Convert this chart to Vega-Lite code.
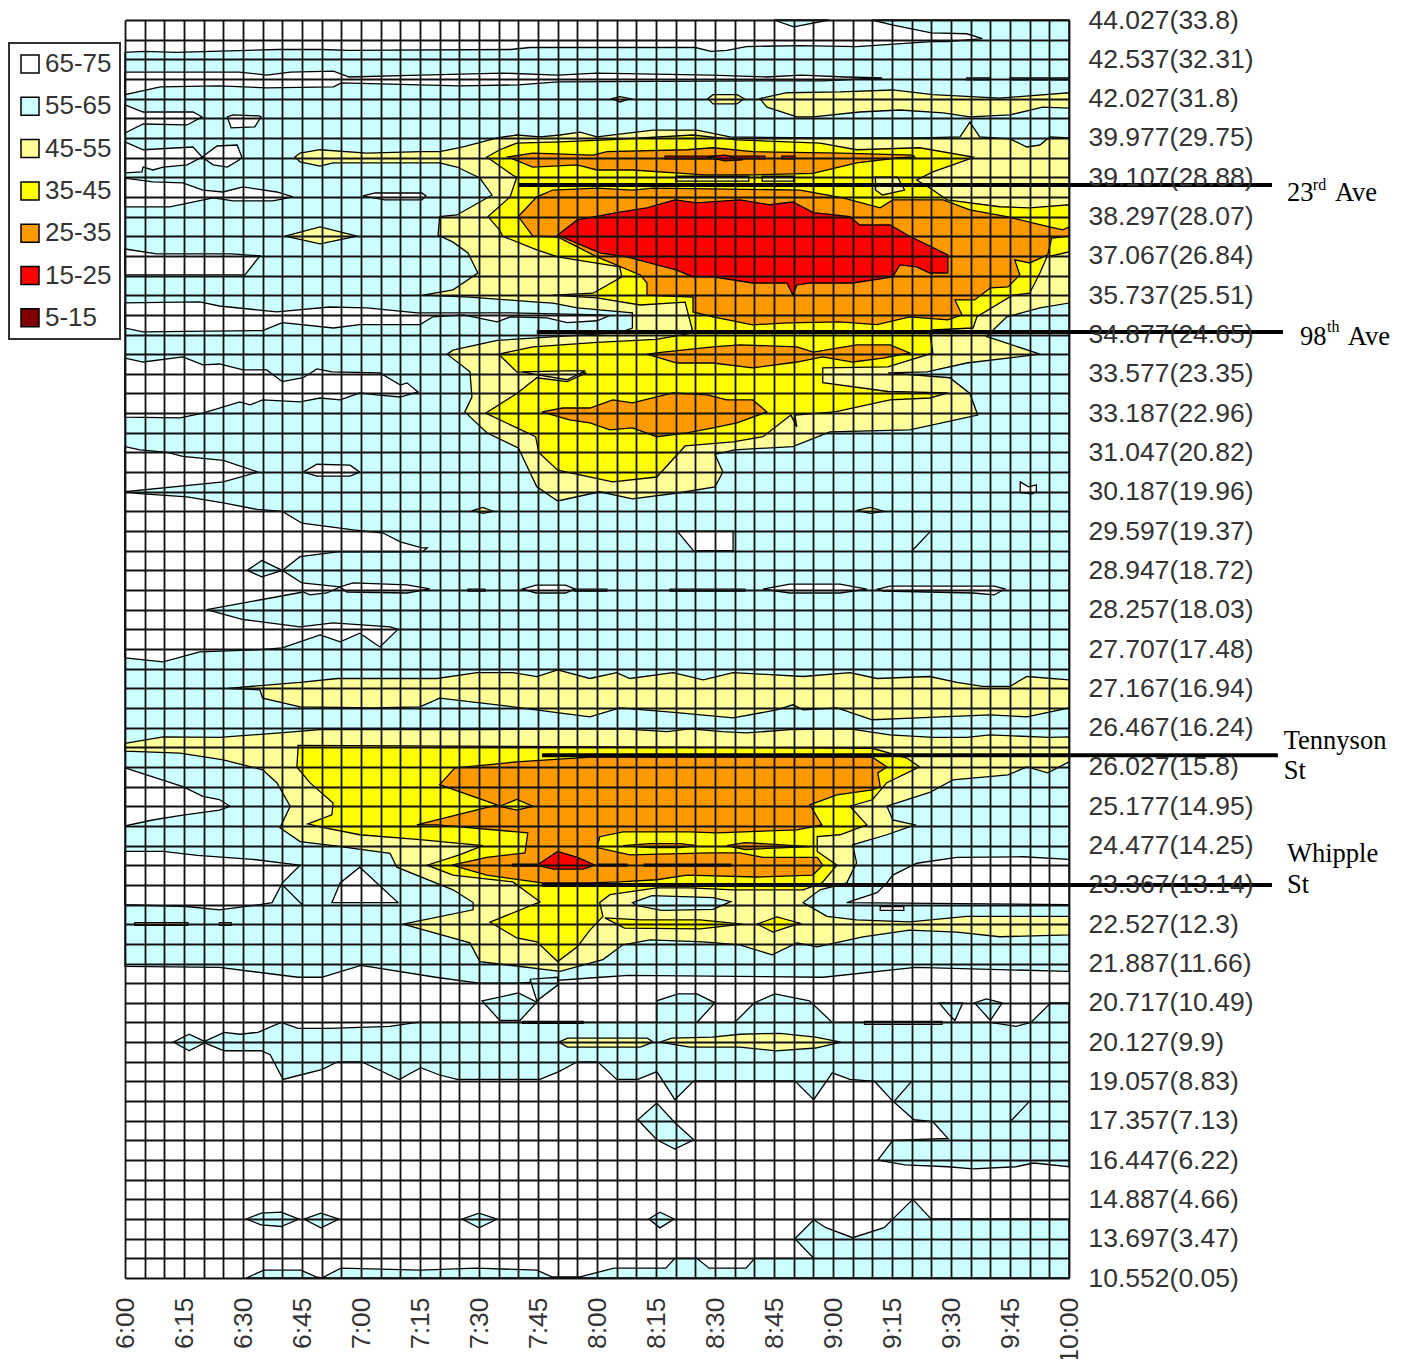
{"$schema":"https://vega.github.io/schema/vega-lite/v6.json","autosize":{"type":"none"},"padding":{"left":125,"top":20,"right":341,"bottom":81},"width":944,"height":1258,"background":"white","config":{"view":{"stroke":null},"font":"Liberation Sans","legend":{"strokeWidth":2}},
"datasets":{"polys":[
{"band":"55-65","part":"c0","t":360,"r":1.65},{"band":"55-65","part":"c0","t":365,"r":1.6},{"band":"55-65","part":"c0","t":373,"r":1.65},{"band":"55-65","part":"c0","t":399,"r":1.5},{"band":"55-65","part":"c0","t":410,"r":1.5},{"band":"55-65","part":"c0","t":417,"r":1.55},{"band":"55-65","part":"c0","t":458,"r":1.5},{"band":"55-65","part":"c0","t":463,"r":1.4},{"band":"55-65","part":"c0","t":505,"r":1.4},{"band":"55-65","part":"c0","t":509,"r":1.6},{"band":"55-65","part":"c0","t":513,"r":1.55},{"band":"55-65","part":"c0","t":518,"r":1.35},{"band":"55-65","part":"c0","t":532,"r":1.3},{"band":"55-65","part":"c0","t":546,"r":1.35},{"band":"55-65","part":"c0","t":565,"r":1.1},{"band":"55-65","part":"c0","t":569,"r":1.1},{"band":"55-65","part":"c0","t":578,"r":0.95},{"band":"55-65","part":"c0","t":574,"r":0.7},{"band":"55-65","part":"c0","t":565,"r":0.65},{"band":"55-65","part":"c0","t":555,"r":0.25},{"band":"55-65","part":"c0","t":550,"r":0},{"band":"55-65","part":"c0","t":600,"r":0},{"band":"55-65","part":"c0","t":600,"r":48.4},{"band":"55-65","part":"c0","t":561,"r":48.2},{"band":"55-65","part":"c0","t":537.5,"r":48.7},{"band":"55-65","part":"c0","t":488,"r":48.6},{"band":"55-65","part":"c0","t":481,"r":48.7},{"band":"55-65","part":"c0","t":460,"r":49},{"band":"55-65","part":"c0","t":450,"r":49},{"band":"55-65","part":"c0","t":439,"r":48.7},{"band":"55-65","part":"c0","t":420,"r":48.1},{"band":"55-65","part":"c0","t":410,"r":48.7},{"band":"55-65","part":"c0","t":404,"r":48.7},{"band":"55-65","part":"c0","t":384,"r":48.2},{"band":"55-65","part":"c0","t":360,"r":48.15},
{"band":"55-65","part":"c1","t":525,"r":0},{"band":"55-65","part":"c1","t":530,"r":0.35},{"band":"55-65","part":"c1","t":539,"r":0},
{"band":"55-65","part":"c2","t":463,"r":48.8},{"band":"55-65","part":"c2","t":464.7,"r":49.9},{"band":"55-65","part":"c2","t":470,"r":49.1},{"band":"55-65","part":"c2","t":470,"r":48.7},
{"band":"55-65","part":"c3","t":450.8,"r":49.9},{"band":"55-65","part":"c3","t":460,"r":49.5},{"band":"55-65","part":"c3","t":464.7,"r":49.97},{"band":"55-65","part":"c3","t":460.4,"r":50.9},{"band":"55-65","part":"c3","t":455.3,"r":50.9},
{"band":"55-65","part":"c4","t":379.8,"r":52},{"band":"55-65","part":"c4","t":385.2,"r":51.5},{"band":"55-65","part":"c4","t":389.2,"r":51.6},{"band":"55-65","part":"c4","t":393.8,"r":51.5},{"band":"55-65","part":"c4","t":399.7,"r":51},{"band":"55-65","part":"c4","t":404,"r":51.3},{"band":"55-65","part":"c4","t":412,"r":51.3},{"band":"55-65","part":"c4","t":427.4,"r":51.2},{"band":"55-65","part":"c4","t":434.2,"r":51},{"band":"55-65","part":"c4","t":495.2,"r":51},{"band":"55-65","part":"c4","t":495.2,"r":49.9},{"band":"55-65","part":"c4","t":500.6,"r":49.55},{"band":"55-65","part":"c4","t":505.4,"r":49.55},{"band":"55-65","part":"c4","t":510,"r":50},{"band":"55-65","part":"c4","t":505.4,"r":51},{"band":"55-65","part":"c4","t":515,"r":51},{"band":"55-65","part":"c4","t":520,"r":50},{"band":"55-65","part":"c4","t":525.2,"r":49.55},{"band":"55-65","part":"c4","t":534,"r":49.9},{"band":"55-65","part":"c4","t":539.8,"r":51},{"band":"55-65","part":"c4","t":567.7,"r":51},{"band":"55-65","part":"c4","t":580,"r":51},{"band":"55-65","part":"c4","t":586.5,"r":51.2},{"band":"55-65","part":"c4","t":590.3,"r":51},{"band":"55-65","part":"c4","t":595.4,"r":50},{"band":"55-65","part":"c4","t":600,"r":50},{"band":"55-65","part":"c4","t":600,"r":58.34},{"band":"55-65","part":"c4","t":591,"r":58.15},{"band":"55-65","part":"c4","t":586.5,"r":58.34},{"band":"55-65","part":"c4","t":575.6,"r":58.45},{"band":"55-65","part":"c4","t":569.2,"r":58.34},{"band":"55-65","part":"c4","t":558.3,"r":58.24},{"band":"55-65","part":"c4","t":551.4,"r":58},{"band":"55-65","part":"c4","t":555.2,"r":57},{"band":"55-65","part":"c4","t":569.2,"r":56.9},{"band":"55-65","part":"c4","t":565.4,"r":56.05},{"band":"55-65","part":"c4","t":560.6,"r":55.95},{"band":"55-65","part":"c4","t":555.2,"r":55},{"band":"55-65","part":"c4","t":550.6,"r":54},{"band":"55-65","part":"c4","t":544.3,"r":53.9},{"band":"55-65","part":"c4","t":539.8,"r":53.56},{"band":"55-65","part":"c4","t":535.1,"r":54.93},{"band":"55-65","part":"c4","t":530.3,"r":53.97},{"band":"55-65","part":"c4","t":504.6,"r":53.97},{"band":"55-65","part":"c4","t":499.8,"r":54.93},{"band":"55-65","part":"c4","t":495.2,"r":53.5},{"band":"55-65","part":"c4","t":490.4,"r":53.9},{"band":"55-65","part":"c4","t":485,"r":53.9},{"band":"55-65","part":"c4","t":480.2,"r":53},{"band":"55-65","part":"c4","t":475,"r":53},{"band":"55-65","part":"c4","t":470.3,"r":53.5},{"band":"55-65","part":"c4","t":465.5,"r":53.9},{"band":"55-65","part":"c4","t":444.4,"r":53.9},{"band":"55-65","part":"c4","t":439.8,"r":53.66},{"band":"55-65","part":"c4","t":435.2,"r":53.3},{"band":"55-65","part":"c4","t":429.7,"r":53.9},{"band":"55-65","part":"c4","t":420.2,"r":53},{"band":"55-65","part":"c4","t":414.1,"r":53},{"band":"55-65","part":"c4","t":410,"r":53.4},{"band":"55-65","part":"c4","t":404.8,"r":53.66},{"band":"55-65","part":"c4","t":400.2,"r":53.9},{"band":"55-65","part":"c4","t":396.9,"r":52.64},{"band":"55-65","part":"c4","t":394.6,"r":52.44},{"band":"55-65","part":"c4","t":385.2,"r":52.44},
{"band":"55-65","part":"c5","t":372.3,"r":52},{"band":"55-65","part":"c5","t":376.3,"r":51.6},{"band":"55-65","part":"c5","t":380.6,"r":52},{"band":"55-65","part":"c5","t":376.3,"r":52.44},
{"band":"55-65","part":"c6","t":567,"r":50},{"band":"55-65","part":"c6","t":573,"r":50},{"band":"55-65","part":"c6","t":571,"r":50.9},{"band":"55-65","part":"c6","t":569.5,"r":50.6},
{"band":"55-65","part":"c7","t":576,"r":50},{"band":"55-65","part":"c7","t":579,"r":49.8},{"band":"55-65","part":"c7","t":583,"r":50},{"band":"55-65","part":"c7","t":580,"r":50.9},
{"band":"55-65","part":"c8","t":495.2,"r":55.1},{"band":"55-65","part":"c8","t":490.4,"r":55.95},{"band":"55-65","part":"c8","t":495.2,"r":56.97},{"band":"55-65","part":"c8","t":499.8,"r":57.44},{"band":"55-65","part":"c8","t":504.6,"r":56.97},{"band":"55-65","part":"c8","t":499.8,"r":56.1},
{"band":"55-65","part":"c9","t":390.8,"r":61},{"band":"55-65","part":"c9","t":394.6,"r":60.7},{"band":"55-65","part":"c9","t":399.7,"r":60.65},{"band":"55-65","part":"c9","t":404.2,"r":61},{"band":"55-65","part":"c9","t":399.7,"r":61.38},{"band":"55-65","part":"c9","t":394.6,"r":61.3},
{"band":"55-65","part":"c10","t":405.5,"r":61},{"band":"55-65","part":"c10","t":409.8,"r":60.7},{"band":"55-65","part":"c10","t":414.4,"r":61},{"band":"55-65","part":"c10","t":409.8,"r":61.45},
{"band":"55-65","part":"c11","t":445.7,"r":61},{"band":"55-65","part":"c11","t":450,"r":60.7},{"band":"55-65","part":"c11","t":454.6,"r":61},{"band":"55-65","part":"c11","t":450,"r":61.45},
{"band":"55-65","part":"c12","t":493.2,"r":61},{"band":"55-65","part":"c12","t":496,"r":60.65},{"band":"55-65","part":"c12","t":499.6,"r":61},{"band":"55-65","part":"c12","t":496,"r":61.45},
{"band":"55-65","part":"c13","t":530.3,"r":62},{"band":"55-65","part":"c13","t":535.1,"r":61.04},{"band":"55-65","part":"c13","t":538.2,"r":61.44},{"band":"55-65","part":"c13","t":545,"r":61.95},{"band":"55-65","part":"c13","t":553,"r":61.44},{"band":"55-65","part":"c13","t":555.5,"r":60.94},{"band":"55-65","part":"c13","t":560.3,"r":60},{"band":"55-65","part":"c13","t":564.9,"r":60.99},{"band":"55-65","part":"c13","t":600,"r":61},{"band":"55-65","part":"c13","t":600,"r":64},{"band":"55-65","part":"c13","t":390.8,"r":64},{"band":"55-65","part":"c13","t":395.3,"r":63.6},{"band":"55-65","part":"c13","t":404.7,"r":63.6},{"band":"55-65","part":"c13","t":408.6,"r":63.94},{"band":"55-65","part":"c13","t":410,"r":64},{"band":"55-65","part":"c13","t":414.9,"r":63.5},{"band":"55-65","part":"c13","t":435.2,"r":63.6},{"band":"55-65","part":"c13","t":449.2,"r":63.5},{"band":"55-65","part":"c13","t":464.7,"r":63.6},{"band":"55-65","part":"c13","t":468.5,"r":63.94},{"band":"55-65","part":"c13","t":475.7,"r":63.94},{"band":"55-65","part":"c13","t":484.3,"r":63.5},{"band":"55-65","part":"c13","t":497.5,"r":63.5},{"band":"55-65","part":"c13","t":499.8,"r":63},{"band":"55-65","part":"c13","t":505.4,"r":63},{"band":"55-65","part":"c13","t":508.5,"r":63.5},{"band":"55-65","part":"c13","t":517.9,"r":63.5},{"band":"55-65","part":"c13","t":520.1,"r":63},{"band":"55-65","part":"c13","t":535.1,"r":63},
{"band":"55-65","part":"l1","t":560,"r":54},{"band":"55-65","part":"l1","t":555.6,"r":55},
{"band":"55-65","part":"l2","t":590,"r":55},{"band":"55-65","part":"l2","t":585.3,"r":56},
{"band":"55-65","part":"l3","t":564.7,"r":26.03},{"band":"55-65","part":"l3","t":560,"r":27.03},
{"band":"65-75","part":"w1","t":360,"r":2.65},{"band":"65-75","part":"w1","t":389,"r":2.65},{"band":"65-75","part":"w1","t":396,"r":2.8},{"band":"65-75","part":"w1","t":402,"r":2.65},{"band":"65-75","part":"w1","t":413,"r":2.6},{"band":"65-75","part":"w1","t":417,"r":2.9},{"band":"65-75","part":"w1","t":435,"r":2.8},{"band":"65-75","part":"w1","t":456,"r":2.7},{"band":"65-75","part":"w1","t":470,"r":2.8},{"band":"65-75","part":"w1","t":480,"r":2.7},{"band":"65-75","part":"w1","t":509,"r":2.8},{"band":"65-75","part":"w1","t":523,"r":2.9},{"band":"65-75","part":"w1","t":532,"r":2.8},{"band":"65-75","part":"w1","t":543,"r":2.9},{"band":"65-75","part":"w1","t":552.5,"r":2.95},{"band":"65-75","part":"w1","t":537.5,"r":3.1},{"band":"65-75","part":"w1","t":522,"r":3.1},{"band":"65-75","part":"w1","t":470,"r":3.15},{"band":"65-75","part":"w1","t":460,"r":3.3},{"band":"65-75","part":"w1","t":445,"r":3.35},{"band":"65-75","part":"w1","t":435,"r":3.3},{"band":"65-75","part":"w1","t":415,"r":3.2},{"band":"65-75","part":"w1","t":413,"r":3.4},{"band":"65-75","part":"w1","t":396,"r":3.45},{"band":"65-75","part":"w1","t":384,"r":3.35},{"band":"65-75","part":"w1","t":369,"r":3.4},{"band":"65-75","part":"w1","t":360,"r":3.8},
{"band":"65-75","part":"w1b","t":574,"r":2.95},{"band":"65-75","part":"w1b","t":580,"r":2.95},{"band":"65-75","part":"w1b","t":580,"r":3.05},{"band":"65-75","part":"w1b","t":574,"r":3.05},
{"band":"65-75","part":"w1c","t":585,"r":2.95},{"band":"65-75","part":"w1c","t":600,"r":2.95},{"band":"65-75","part":"w1c","t":600,"r":3.05},{"band":"65-75","part":"w1c","t":585,"r":3.05},
{"band":"65-75","part":"w2","t":360,"r":4.32},{"band":"65-75","part":"w2","t":364.6,"r":4.68},{"band":"65-75","part":"w2","t":377.3,"r":4.68},{"band":"65-75","part":"w2","t":379.6,"r":4.93},{"band":"65-75","part":"w2","t":375.8,"r":5.34},{"band":"65-75","part":"w2","t":364.6,"r":5.29},{"band":"65-75","part":"w2","t":360,"r":5.75},
{"band":"65-75","part":"w3","t":386,"r":4.93},{"band":"65-75","part":"w3","t":387.5,"r":4.83},{"band":"65-75","part":"w3","t":394,"r":4.88},{"band":"65-75","part":"w3","t":394.6,"r":4.93},{"band":"65-75","part":"w3","t":393,"r":5.44},{"band":"65-75","part":"w3","t":387,"r":5.49},
{"band":"65-75","part":"w4","t":360,"r":6.2},{"band":"65-75","part":"w4","t":364.6,"r":6.6},{"band":"65-75","part":"w4","t":377.3,"r":6.46},{"band":"65-75","part":"w4","t":379.6,"r":6.97},{"band":"65-75","part":"w4","t":375.8,"r":7.37},{"band":"65-75","part":"w4","t":369.7,"r":7.48},{"band":"65-75","part":"w4","t":367.1,"r":7.63},{"band":"65-75","part":"w4","t":364.6,"r":7.48},{"band":"65-75","part":"w4","t":364.3,"r":7.73},{"band":"65-75","part":"w4","t":360,"r":7.78},
{"band":"65-75","part":"w5","t":379.6,"r":6.97},{"band":"65-75","part":"w5","t":383.4,"r":6.41},{"band":"65-75","part":"w5","t":388.5,"r":6.36},{"band":"65-75","part":"w5","t":389.7,"r":6.97},{"band":"65-75","part":"w5","t":389,"r":7.12},{"band":"65-75","part":"w5","t":386,"r":7.48},{"band":"65-75","part":"w5","t":382.4,"r":7.37},
{"band":"65-75","part":"w6","t":360,"r":8.04},{"band":"65-75","part":"w6","t":367.1,"r":8.24},{"band":"65-75","part":"w6","t":374.7,"r":8.29},{"band":"65-75","part":"w6","t":379.8,"r":8.65},{"band":"65-75","part":"w6","t":384.9,"r":8.75},{"band":"65-75","part":"w6","t":390,"r":8.49},{"band":"65-75","part":"w6","t":398.6,"r":8.75},{"band":"65-75","part":"w6","t":402.7,"r":9},{"band":"65-75","part":"w6","t":397.6,"r":9.2},{"band":"65-75","part":"w6","t":387.5,"r":9.2},{"band":"65-75","part":"w6","t":382.4,"r":9.05},{"band":"65-75","part":"w6","t":371.4,"r":9.51},{"band":"65-75","part":"w6","t":360,"r":9.51},
{"band":"65-75","part":"w7","t":420.5,"r":8.95},{"band":"65-75","part":"w7","t":423.6,"r":8.8},{"band":"65-75","part":"w7","t":435.5,"r":8.8},{"band":"65-75","part":"w7","t":436.5,"r":8.95},{"band":"65-75","part":"w7","t":435.5,"r":9.15},{"band":"65-75","part":"w7","t":426,"r":9.15},
{"band":"65-75","part":"w8","t":360,"r":11.65},{"band":"65-75","part":"w8","t":368,"r":11.9},{"band":"65-75","part":"w8","t":387,"r":11.9},{"band":"65-75","part":"w8","t":394.3,"r":12},{"band":"65-75","part":"w8","t":390.5,"r":12.97},{"band":"65-75","part":"w8","t":360,"r":12.97},
{"band":"65-75","part":"w9","t":360,"r":14.39},{"band":"65-75","part":"w9","t":379,"r":14.34},{"band":"65-75","part":"w9","t":384,"r":14.55},{"band":"65-75","part":"w9","t":398.6,"r":14.85},{"band":"65-75","part":"w9","t":412,"r":14.6},{"band":"65-75","part":"w9","t":421.5,"r":14.65},{"band":"65-75","part":"w9","t":434.3,"r":14.9},{"band":"65-75","part":"w9","t":443.4,"r":14.9},{"band":"65-75","part":"w9","t":458,"r":14.9},{"band":"65-75","part":"w9","t":481,"r":15},{"band":"65-75","part":"w9","t":483,"r":15.05},{"band":"65-75","part":"w9","t":480,"r":15.3},{"band":"65-75","part":"w9","t":472.4,"r":15.4},{"band":"65-75","part":"w9","t":467.3,"r":15.15},{"band":"65-75","part":"w9","t":458,"r":15.1},{"band":"65-75","part":"w9","t":454.6,"r":15.36},{"band":"65-75","part":"w9","t":446,"r":15},{"band":"65-75","part":"w9","t":438.3,"r":15.1},{"band":"65-75","part":"w9","t":435,"r":15.5},{"band":"65-75","part":"w9","t":419.7,"r":15.5},{"band":"65-75","part":"w9","t":413,"r":15.67},{"band":"65-75","part":"w9","t":400,"r":15.4},{"band":"65-75","part":"w9","t":395,"r":15.8},{"band":"65-75","part":"w9","t":364.6,"r":15.87},{"band":"65-75","part":"w9","t":360,"r":15.67},
{"band":"65-75","part":"w10","t":360,"r":17.2},{"band":"65-75","part":"w10","t":364.6,"r":17.4},{"band":"65-75","part":"w10","t":374.7,"r":17.14},{"band":"65-75","part":"w10","t":379.8,"r":17.55},{"band":"65-75","part":"w10","t":384,"r":17.5},{"band":"65-75","part":"w10","t":390,"r":17.8},{"band":"65-75","part":"w10","t":396,"r":17.8},{"band":"65-75","part":"w10","t":400,"r":18.4},{"band":"65-75","part":"w10","t":405.3,"r":18.2},{"band":"65-75","part":"w10","t":408.8,"r":17.75},{"band":"65-75","part":"w10","t":412.6,"r":17.9},{"band":"65-75","part":"w10","t":424.8,"r":17.95},{"band":"65-75","part":"w10","t":430,"r":18.57},{"band":"65-75","part":"w10","t":431.7,"r":18.46},{"band":"65-75","part":"w10","t":434.5,"r":18.92},{"band":"65-75","part":"w10","t":430,"r":19.18},{"band":"65-75","part":"w10","t":424,"r":19.07},{"band":"65-75","part":"w10","t":419.7,"r":18.97},{"band":"65-75","part":"w10","t":414.7,"r":19.33},{"band":"65-75","part":"w10","t":409.6,"r":19.23},{"band":"65-75","part":"w10","t":404.5,"r":19.43},{"band":"65-75","part":"w10","t":395,"r":19.33},{"band":"65-75","part":"w10","t":391.8,"r":19.58},{"band":"65-75","part":"w10","t":389.2,"r":19.43},{"band":"65-75","part":"w10","t":379.8,"r":20},{"band":"65-75","part":"w10","t":374,"r":20.24},{"band":"65-75","part":"w10","t":360,"r":20.2},
{"band":"65-75","part":"w11","t":360,"r":21.7},{"band":"65-75","part":"w11","t":363.8,"r":21.87},{"band":"65-75","part":"w11","t":370.7,"r":22},{"band":"65-75","part":"w11","t":374.7,"r":22.2},{"band":"65-75","part":"w11","t":385,"r":22.4},{"band":"65-75","part":"w11","t":393.8,"r":23},{"band":"65-75","part":"w11","t":385,"r":23.5},{"band":"65-75","part":"w11","t":360,"r":24},
{"band":"65-75","part":"w12","t":360,"r":24},{"band":"65-75","part":"w12","t":363.8,"r":24.1},{"band":"65-75","part":"w12","t":375.8,"r":24.26},{"band":"65-75","part":"w12","t":385,"r":24.57},{"band":"65-75","part":"w12","t":393.6,"r":24.9},{"band":"65-75","part":"w12","t":400,"r":25},{"band":"65-75","part":"w12","t":405,"r":25.6},{"band":"65-75","part":"w12","t":418,"r":25.94},{"band":"65-75","part":"w12","t":425.6,"r":26.1},{"band":"65-75","part":"w12","t":430,"r":26.55},{"band":"65-75","part":"w12","t":435.5,"r":26.86},{"band":"65-75","part":"w12","t":436.8,"r":26.86},{"band":"65-75","part":"w12","t":435.5,"r":27.06},{"band":"65-75","part":"w12","t":426.6,"r":27.06},{"band":"65-75","part":"w12","t":414,"r":27.06},{"band":"65-75","part":"w12","t":404.5,"r":27.3},{"band":"65-75","part":"w12","t":400,"r":28},{"band":"65-75","part":"w12","t":405,"r":28.64},{"band":"65-75","part":"w12","t":414.7,"r":28.84},{"band":"65-75","part":"w12","t":418,"r":28.64},{"band":"65-75","part":"w12","t":431.7,"r":28.74},{"band":"65-75","part":"w12","t":437.5,"r":28.94},{"band":"65-75","part":"w12","t":431.7,"r":29.15},{"band":"65-75","part":"w12","t":416.4,"r":29.1},{"band":"65-75","part":"w12","t":414.7,"r":28.84},{"band":"65-75","part":"w12","t":411.3,"r":29.15},{"band":"65-75","part":"w12","t":407,"r":29.25},{"band":"65-75","part":"w12","t":405.3,"r":29.1},{"band":"65-75","part":"w12","t":380.8,"r":30},{"band":"65-75","part":"w12","t":390,"r":30.5},{"band":"65-75","part":"w12","t":404.5,"r":30.87},{"band":"65-75","part":"w12","t":412.9,"r":30.67},{"band":"65-75","part":"w12","t":427.4,"r":30.87},{"band":"65-75","part":"w12","t":429.4,"r":31},{"band":"65-75","part":"w12","t":424.8,"r":31.9},{"band":"65-75","part":"w12","t":419.7,"r":31.2},{"band":"65-75","part":"w12","t":414.7,"r":31.64},{"band":"65-75","part":"w12","t":409.6,"r":31.28},{"band":"65-75","part":"w12","t":400,"r":31.94},{"band":"65-75","part":"w12","t":393.6,"r":32.04},{"band":"65-75","part":"w12","t":379,"r":32.15},{"band":"65-75","part":"w12","t":369.7,"r":32.65},{"band":"65-75","part":"w12","t":360,"r":32.45},
{"band":"55-65","part":"c14","t":391,"r":28},{"band":"55-65","part":"c14","t":394.8,"r":27.5},{"band":"55-65","part":"c14","t":400,"r":28},{"band":"55-65","part":"c14","t":394.8,"r":28.33},
{"band":"65-75","part":"w13","t":405.3,"r":23},{"band":"65-75","part":"w13","t":408.8,"r":22.6},{"band":"65-75","part":"w13","t":417.2,"r":22.65},{"band":"65-75","part":"w13","t":419.7,"r":23},{"band":"65-75","part":"w13","t":417.2,"r":23.2},{"band":"65-75","part":"w13","t":408.8,"r":23.2},
{"band":"65-75","part":"s1","t":447.2,"r":28.95},{"band":"65-75","part":"s1","t":451.5,"r":28.95},{"band":"65-75","part":"s1","t":451.5,"r":29.05},{"band":"65-75","part":"s1","t":447.2,"r":29.05},
{"band":"65-75","part":"s2","t":461,"r":28.95},{"band":"65-75","part":"s2","t":464.5,"r":28.75},{"band":"65-75","part":"s2","t":472,"r":28.75},{"band":"65-75","part":"s2","t":474.4,"r":28.95},{"band":"65-75","part":"s2","t":472,"r":29.15},{"band":"65-75","part":"s2","t":464.5,"r":29.15},
{"band":"65-75","part":"s3","t":474.4,"r":28.95},{"band":"65-75","part":"s3","t":482.5,"r":28.95},{"band":"65-75","part":"s3","t":482.5,"r":29.05},{"band":"65-75","part":"s3","t":474.4,"r":29.05},
{"band":"65-75","part":"s4","t":498.6,"r":28.95},{"band":"65-75","part":"s4","t":517.6,"r":28.95},{"band":"65-75","part":"s4","t":517.6,"r":29.05},{"band":"65-75","part":"s4","t":498.6,"r":29.05},
{"band":"65-75","part":"s5","t":522.2,"r":28.95},{"band":"65-75","part":"s5","t":529,"r":28.7},{"band":"65-75","part":"s5","t":541.8,"r":28.7},{"band":"65-75","part":"s5","t":548.6,"r":28.95},{"band":"65-75","part":"s5","t":541.8,"r":29.15},{"band":"65-75","part":"s5","t":529,"r":29.15},
{"band":"65-75","part":"s6","t":551.4,"r":28.95},{"band":"65-75","part":"s6","t":554.5,"r":28.8},{"band":"65-75","part":"s6","t":581,"r":28.8},{"band":"65-75","part":"s6","t":583.7,"r":28.95},{"band":"65-75","part":"s6","t":581,"r":29.25},{"band":"65-75","part":"s6","t":575.6,"r":29.15},{"band":"65-75","part":"s6","t":552.8,"r":29.05},
{"band":"65-75","part":"w14","t":500.4,"r":26},{"band":"65-75","part":"w14","t":514.6,"r":26},{"band":"65-75","part":"w14","t":514.6,"r":27},{"band":"65-75","part":"w14","t":504.5,"r":27},
{"band":"65-75","part":"w15","t":587.6,"r":23.5},{"band":"65-75","part":"w15","t":589.7,"r":23.75},{"band":"65-75","part":"w15","t":591.7,"r":23.65},{"band":"65-75","part":"w15","t":591.7,"r":24},{"band":"65-75","part":"w15","t":590.6,"r":24.1},{"band":"65-75","part":"w15","t":587.6,"r":24.05},
{"band":"65-75","part":"w16","t":600,"r":42.7},{"band":"65-75","part":"w16","t":588.3,"r":42.57},{"band":"65-75","part":"w16","t":571.5,"r":42.6},{"band":"65-75","part":"w16","t":561.3,"r":42.9},{"band":"65-75","part":"w16","t":555.2,"r":43.5},{"band":"65-75","part":"w16","t":553.7,"r":43.9},{"band":"65-75","part":"w16","t":551.2,"r":44.4},{"band":"65-75","part":"w16","t":543.5,"r":44.9},{"band":"65-75","part":"w16","t":600,"r":45},
{"band":"65-75","part":"w17","t":552,"r":45.1},{"band":"65-75","part":"w17","t":558,"r":45.1},{"band":"65-75","part":"w17","t":558,"r":45.3},{"band":"65-75","part":"w17","t":552,"r":45.3},
{"band":"65-75","part":"w18","t":360,"r":38.05},{"band":"65-75","part":"w18","t":374.7,"r":39},{"band":"65-75","part":"w18","t":379.8,"r":39.5},{"band":"65-75","part":"w18","t":384,"r":39.66},{"band":"65-75","part":"w18","t":386.7,"r":40},{"band":"65-75","part":"w18","t":384,"r":40.2},{"band":"65-75","part":"w18","t":374.7,"r":40.45},{"band":"65-75","part":"w18","t":367,"r":40.7},{"band":"65-75","part":"w18","t":360,"r":41},
{"band":"65-75","part":"w19","t":360,"r":42.3},{"band":"65-75","part":"w19","t":369.7,"r":42.3},{"band":"65-75","part":"w19","t":378.4,"r":42.5},{"band":"65-75","part":"w19","t":392.4,"r":42.7},{"band":"65-75","part":"w19","t":404.5,"r":43},{"band":"65-75","part":"w19","t":400,"r":43.9},{"band":"65-75","part":"w19","t":397.4,"r":44.9},{"band":"65-75","part":"w19","t":394.3,"r":45},{"band":"65-75","part":"w19","t":384,"r":45.27},{"band":"65-75","part":"w19","t":375.6,"r":45.1},{"band":"65-75","part":"w19","t":360,"r":45},
{"band":"55-65","part":"l4","t":400,"r":44},{"band":"55-65","part":"l4","t":405,"r":45},
{"band":"65-75","part":"w20","t":419.7,"r":43.1},{"band":"65-75","part":"w20","t":429.4,"r":44.9},{"band":"65-75","part":"w20","t":412.6,"r":44.9},{"band":"65-75","part":"w20","t":414.7,"r":43.9},
{"band":"65-75","part":"w21","t":461,"r":50.95},{"band":"65-75","part":"w21","t":476.5,"r":50.95},{"band":"65-75","part":"w21","t":476.5,"r":51.05},{"band":"65-75","part":"w21","t":461,"r":51.05},
{"band":"65-75","part":"w22","t":548,"r":50.95},{"band":"65-75","part":"w22","t":567.7,"r":50.95},{"band":"65-75","part":"w22","t":567.7,"r":51.1},{"band":"65-75","part":"w22","t":548,"r":51.1},
{"band":"45-55","part":"p1","t":400.7,"r":11},{"band":"45-55","part":"p1","t":409.6,"r":10.53},{"band":"45-55","part":"p1","t":419,"r":11},{"band":"45-55","part":"p1","t":409.6,"r":11.39},
{"band":"45-55","part":"p2","t":448.5,"r":24.95},{"band":"45-55","part":"p2","t":451,"r":24.8},{"band":"45-55","part":"p2","t":453.6,"r":25},{"band":"45-55","part":"p2","t":451,"r":25.1},
{"band":"45-55","part":"p3","t":546,"r":24.95},{"band":"45-55","part":"p3","t":549.5,"r":24.8},{"band":"45-55","part":"p3","t":553,"r":25},{"band":"45-55","part":"p3","t":549.5,"r":25.1},
{"band":"45-55","part":"p4","t":483.8,"r":4},{"band":"45-55","part":"p4","t":485.8,"r":3.9},{"band":"45-55","part":"p4","t":488.4,"r":4},{"band":"45-55","part":"p4","t":485.8,"r":4.17},
{"band":"45-55","part":"p5","t":508.2,"r":4},{"band":"45-55","part":"p5","t":509.5,"r":3.8},{"band":"45-55","part":"p5","t":515.6,"r":3.8},{"band":"45-55","part":"p5","t":517.4,"r":4},{"band":"45-55","part":"p5","t":515.6,"r":4.27},{"band":"45-55","part":"p5","t":509.5,"r":4.27},
{"band":"45-55","part":"p6","t":521.4,"r":4},{"band":"45-55","part":"p6","t":528.3,"r":3.7},{"band":"45-55","part":"p6","t":541.8,"r":3.66},{"band":"45-55","part":"p6","t":555.2,"r":3.56},{"band":"45-55","part":"p6","t":565.4,"r":3.8},{"band":"45-55","part":"p6","t":582.4,"r":3.97},{"band":"45-55","part":"p6","t":600,"r":3.7},{"band":"45-55","part":"p6","t":600,"r":4.48},{"band":"45-55","part":"p6","t":593.3,"r":4.43},{"band":"45-55","part":"p6","t":585,"r":4.83},{"band":"45-55","part":"p6","t":574.8,"r":4.93},{"band":"45-55","part":"p6","t":568,"r":4.73},{"band":"45-55","part":"p6","t":557,"r":4.58},{"band":"45-55","part":"p6","t":546.8,"r":4.68},{"band":"45-55","part":"p6","t":535,"r":4.93},{"band":"45-55","part":"p6","t":530.8,"r":4.93},{"band":"45-55","part":"p6","t":523.2,"r":4.43},
{"band":"45-55","part":"p7","t":403.2,"r":6.97},{"band":"45-55","part":"p7","t":404.5,"r":6.77},{"band":"45-55","part":"p7","t":409.6,"r":6.6},{"band":"45-55","part":"p7","t":421.5,"r":6.77},{"band":"45-55","part":"p7","t":435,"r":6.7},{"band":"45-55","part":"p7","t":440,"r":6.7},{"band":"45-55","part":"p7","t":446,"r":6.46},{"band":"45-55","part":"p7","t":454.6,"r":6},{"band":"45-55","part":"p7","t":459.6,"r":5.85},{"band":"45-55","part":"p7","t":465.5,"r":5.95},{"band":"45-55","part":"p7","t":470.6,"r":5.85},{"band":"45-55","part":"p7","t":475.7,"r":5.7},{"band":"45-55","part":"p7","t":480,"r":5.95},{"band":"45-55","part":"p7","t":494.2,"r":5.6},{"band":"45-55","part":"p7","t":505.4,"r":5.6},{"band":"45-55","part":"p7","t":513.8,"r":5.95},{"band":"45-55","part":"p7","t":536.7,"r":6},{"band":"45-55","part":"p7","t":562.6,"r":6},{"band":"45-55","part":"p7","t":572.3,"r":5.95},{"band":"45-55","part":"p7","t":574.8,"r":5.2},{"band":"45-55","part":"p7","t":577.3,"r":5.95},{"band":"45-55","part":"p7","t":585,"r":6.05},{"band":"45-55","part":"p7","t":589.3,"r":6.46},{"band":"45-55","part":"p7","t":592.6,"r":6.36},{"band":"45-55","part":"p7","t":595.1,"r":5.95},{"band":"45-55","part":"p7","t":600,"r":6},{"band":"45-55","part":"p7","t":600,"r":14.4},{"band":"45-55","part":"p7","t":592.6,"r":14.65},{"band":"45-55","part":"p7","t":584.2,"r":15.1},{"band":"45-55","part":"p7","t":579,"r":16.1},{"band":"45-55","part":"p7","t":592.6,"r":17},{"band":"45-55","part":"p7","t":574,"r":17.45},{"band":"45-55","part":"p7","t":563.9,"r":17.9},{"band":"45-55","part":"p7","t":554,"r":17.95},{"band":"45-55","part":"p7","t":569.7,"r":18.2},{"band":"45-55","part":"p7","t":574.8,"r":19},{"band":"45-55","part":"p7","t":576.8,"r":20.1},{"band":"45-55","part":"p7","t":559.5,"r":20.85},{"band":"45-55","part":"p7","t":539.2,"r":20.95},{"band":"45-55","part":"p7","t":529.8,"r":21.7},{"band":"45-55","part":"p7","t":515,"r":21.87},{"band":"45-55","part":"p7","t":510,"r":22.1},{"band":"45-55","part":"p7","t":512,"r":23},{"band":"45-55","part":"p7","t":510,"r":23.75},{"band":"45-55","part":"p7","t":501,"r":24.05},{"band":"45-55","part":"p7","t":489,"r":24.36},{"band":"45-55","part":"p7","t":480.7,"r":24},{"band":"45-55","part":"p7","t":470,"r":24.47},{"band":"45-55","part":"p7","t":464.7,"r":23.75},{"band":"45-55","part":"p7","t":460,"r":21.77},{"band":"45-55","part":"p7","t":452,"r":21},{"band":"45-55","part":"p7","t":446.4,"r":19.94},{"band":"45-55","part":"p7","t":448.2,"r":19.18},{"band":"45-55","part":"p7","t":447.7,"r":17.9},{"band":"45-55","part":"p7","t":441.9,"r":17},{"band":"45-55","part":"p7","t":443.4,"r":16.8},{"band":"45-55","part":"p7","t":454.6,"r":16.3},{"band":"45-55","part":"p7","t":485.8,"r":15.9},{"band":"45-55","part":"p7","t":489,"r":15.67},{"band":"45-55","part":"p7","t":489,"r":14.9},{"band":"45-55","part":"p7","t":475,"r":14.65},{"band":"45-55","part":"p7","t":468.8,"r":14.4},{"band":"45-55","part":"p7","t":464.7,"r":14.35},{"band":"45-55","part":"p7","t":447.7,"r":14.1},{"band":"45-55","part":"p7","t":435.8,"r":14},{"band":"45-55","part":"p7","t":443.4,"r":13.73},{"band":"45-55","part":"p7","t":449.7,"r":12.87},{"band":"45-55","part":"p7","t":447.2,"r":11.85},{"band":"45-55","part":"p7","t":443.4,"r":11.3},{"band":"45-55","part":"p7","t":439.6,"r":10.94},{"band":"45-55","part":"p7","t":440,"r":10},{"band":"45-55","part":"p7","t":444.4,"r":9.92},{"band":"45-55","part":"p7","t":453.3,"r":8.9},{"band":"45-55","part":"p7","t":450.2,"r":8.04},{"band":"45-55","part":"p7","t":444.4,"r":7.48},{"band":"45-55","part":"p7","t":440,"r":7.27},{"band":"45-55","part":"p7","t":412.9,"r":7.27},{"band":"45-55","part":"p7","t":409.6,"r":7.43},{"band":"45-55","part":"p7","t":404.5,"r":7.22},
{"band":"45-55","part":"p8","t":386.2,"r":34},{"band":"45-55","part":"p8","t":404.5,"r":33.7},{"band":"45-55","part":"p8","t":414,"r":33.5},{"band":"45-55","part":"p8","t":439.3,"r":33.5},{"band":"45-55","part":"p8","t":449.5,"r":33.2},{"band":"45-55","part":"p8","t":458.6,"r":33.2},{"band":"45-55","part":"p8","t":464.7,"r":33.4},{"band":"45-55","part":"p8","t":470,"r":33.06},{"band":"45-55","part":"p8","t":478.2,"r":33.5},{"band":"45-55","part":"p8","t":485,"r":33.2},{"band":"45-55","part":"p8","t":488.4,"r":33.5},{"band":"45-55","part":"p8","t":499.3,"r":33.2},{"band":"45-55","part":"p8","t":507,"r":33.57},{"band":"45-55","part":"p8","t":514.6,"r":33.2},{"band":"45-55","part":"p8","t":532.4,"r":33.4},{"band":"45-55","part":"p8","t":544.3,"r":33.2},{"band":"45-55","part":"p8","t":551.2,"r":33.5},{"band":"45-55","part":"p8","t":564.6,"r":33.4},{"band":"45-55","part":"p8","t":571.5,"r":33.7},{"band":"45-55","part":"p8","t":578,"r":33.9},{"band":"45-55","part":"p8","t":585,"r":33.9},{"band":"45-55","part":"p8","t":589.3,"r":33.4},{"band":"45-55","part":"p8","t":600,"r":33.57},{"band":"45-55","part":"p8","t":600,"r":35},{"band":"45-55","part":"p8","t":589.3,"r":35.45},{"band":"45-55","part":"p8","t":580,"r":35.35},{"band":"45-55","part":"p8","t":561.3,"r":35.5},{"band":"45-55","part":"p8","t":550,"r":35.6},{"band":"45-55","part":"p8","t":541,"r":35},{"band":"45-55","part":"p8","t":532.4,"r":35.1},{"band":"45-55","part":"p8","t":529.8,"r":34.84},{"band":"45-55","part":"p8","t":525.7,"r":35.1},{"band":"45-55","part":"p8","t":514.6,"r":35.5},{"band":"45-55","part":"p8","t":500.3,"r":35.24},{"band":"45-55","part":"p8","t":485.8,"r":35},{"band":"45-55","part":"p8","t":478.2,"r":35.45},{"band":"45-55","part":"p8","t":458.6,"r":34.94},{"band":"45-55","part":"p8","t":440,"r":34.5},{"band":"45-55","part":"p8","t":435,"r":34.94},{"band":"45-55","part":"p8","t":423,"r":35},{"band":"45-55","part":"p8","t":404.5,"r":34.94},{"band":"45-55","part":"p8","t":395,"r":34.5},{"band":"45-55","part":"p8","t":394.3,"r":34.08},
{"band":"45-55","part":"p9","t":360,"r":36.8},{"band":"45-55","part":"p9","t":369.7,"r":36.47},{"band":"45-55","part":"p9","t":384,"r":36.5},{"band":"45-55","part":"p9","t":399.4,"r":36.27},{"band":"45-55","part":"p9","t":409.6,"r":36.1},{"band":"45-55","part":"p9","t":452,"r":36.1},{"band":"45-55","part":"p9","t":486.6,"r":36.06},{"band":"45-55","part":"p9","t":497.8,"r":36.2},{"band":"45-55","part":"p9","t":503.6,"r":36.06},{"band":"45-55","part":"p9","t":512,"r":36.2},{"band":"45-55","part":"p9","t":518,"r":36.27},{"band":"45-55","part":"p9","t":529,"r":36.1},{"band":"45-55","part":"p9","t":544.3,"r":36.06},{"band":"45-55","part":"p9","t":554.5,"r":36.37},{"band":"45-55","part":"p9","t":565.4,"r":36.5},{"band":"45-55","part":"p9","t":574,"r":36.5},{"band":"45-55","part":"p9","t":580,"r":36.37},{"band":"45-55","part":"p9","t":595,"r":36.5},{"band":"45-55","part":"p9","t":600,"r":36.47},{"band":"45-55","part":"p9","t":600,"r":37.74},{"band":"45-55","part":"p9","t":594.6,"r":38.3},{"band":"45-55","part":"p9","t":589.3,"r":38},{"band":"45-55","part":"p9","t":584.5,"r":38.4},{"band":"45-55","part":"p9","t":570.5,"r":38.66},{"band":"45-55","part":"p9","t":564.6,"r":39.3},{"band":"45-55","part":"p9","t":553.7,"r":40},{"band":"45-55","part":"p9","t":555.2,"r":40.7},{"band":"45-55","part":"p9","t":560.8,"r":40.95},{"band":"45-55","part":"p9","t":553.7,"r":41.45},{"band":"45-55","part":"p9","t":545,"r":41.96},{"band":"45-55","part":"p9","t":546,"r":42.88},{"band":"45-55","part":"p9","t":543.5,"r":43.9},{"band":"45-55","part":"p9","t":536.7,"r":44.25},{"band":"45-55","part":"p9","t":532.4,"r":44.9},{"band":"45-55","part":"p9","t":538.5,"r":45.6},{"band":"45-55","part":"p9","t":546,"r":45.78},{"band":"45-55","part":"p9","t":559.5,"r":45.88},{"band":"45-55","part":"p9","t":574,"r":45.6},{"band":"45-55","part":"p9","t":600,"r":45.6},{"band":"45-55","part":"p9","t":600,"r":46.54},{"band":"45-55","part":"p9","t":582.4,"r":46.64},{"band":"45-55","part":"p9","t":571.5,"r":46.4},{"band":"45-55","part":"p9","t":559.5,"r":46.3},{"band":"45-55","part":"p9","t":547.6,"r":46.64},{"band":"45-55","part":"p9","t":536,"r":47.15},{"band":"45-55","part":"p9","t":530.8,"r":46.95},{"band":"45-55","part":"p9","t":524.5,"r":47.56},{"band":"45-55","part":"p9","t":516.3,"r":47.05},{"band":"45-55","part":"p9","t":507,"r":46.9},{"band":"45-55","part":"p9","t":493.5,"r":46.8},{"band":"45-55","part":"p9","t":486.6,"r":47.05},{"band":"45-55","part":"p9","t":481.5,"r":47.8},{"band":"45-55","part":"p9","t":470.6,"r":48.4},{"band":"45-55","part":"p9","t":450.2,"r":47.9},{"band":"45-55","part":"p9","t":447.7,"r":46.95},{"band":"45-55","part":"p9","t":430.7,"r":46},{"band":"45-55","part":"p9","t":448.5,"r":45.27},{"band":"45-55","part":"p9","t":448.5,"r":44.9},{"band":"45-55","part":"p9","t":443.4,"r":44.25},{"band":"45-55","part":"p9","t":429.1,"r":43.1},{"band":"45-55","part":"p9","t":427.4,"r":42.4},{"band":"45-55","part":"p9","t":412.9,"r":42},{"band":"45-55","part":"p9","t":404.5,"r":41.8},{"band":"45-55","part":"p9","t":399.4,"r":41.1},{"band":"45-55","part":"p9","t":402,"r":40},{"band":"45-55","part":"p9","t":398.6,"r":38.8},{"band":"45-55","part":"p9","t":395,"r":38.15},{"band":"45-55","part":"p9","t":385,"r":37.64},{"band":"45-55","part":"p9","t":374,"r":37.3},{"band":"45-55","part":"p9","t":360,"r":37.2},
{"band":"55-65","part":"c15","t":489,"r":44.9},{"band":"55-65","part":"c15","t":494,"r":44.55},{"band":"55-65","part":"c15","t":509.5,"r":44.65},{"band":"55-65","part":"c15","t":514,"r":44.85},{"band":"55-65","part":"c15","t":509.5,"r":45.25},{"band":"55-65","part":"c15","t":496.5,"r":45.3},{"band":"55-65","part":"c15","t":490,"r":45.05},
{"band":"45-55","part":"p10","t":362.5,"r":45.92},{"band":"45-55","part":"p10","t":376,"r":45.92},{"band":"45-55","part":"p10","t":376,"r":46.06},{"band":"45-55","part":"p10","t":362.5,"r":46.06},
{"band":"45-55","part":"p11","t":384,"r":45.92},{"band":"45-55","part":"p11","t":387,"r":45.92},{"band":"45-55","part":"p11","t":387,"r":46.06},{"band":"45-55","part":"p11","t":384,"r":46.06},
{"band":"45-55","part":"p12","t":470.3,"r":52},{"band":"45-55","part":"p12","t":472.5,"r":51.8},{"band":"45-55","part":"p12","t":492.8,"r":51.8},{"band":"45-55","part":"p12","t":494.3,"r":52},{"band":"45-55","part":"p12","t":491,"r":52.25},{"band":"45-55","part":"p12","t":472.5,"r":52.25},
{"band":"45-55","part":"p13","t":496,"r":52},{"band":"45-55","part":"p13","t":499,"r":51.8},{"band":"45-55","part":"p13","t":509.3,"r":51.75},{"band":"45-55","part":"p13","t":516.3,"r":51.6},{"band":"45-55","part":"p13","t":526.5,"r":51.55},{"band":"45-55","part":"p13","t":535.6,"r":51.75},{"band":"45-55","part":"p13","t":542,"r":52},{"band":"45-55","part":"p13","t":535.6,"r":52.3},{"band":"45-55","part":"p13","t":525.5,"r":52.44},{"band":"45-55","part":"p13","t":516.3,"r":52.25},{"band":"45-55","part":"p13","t":503.6,"r":52.25},
{"band":"35-45","part":"y1","t":452,"r":6.97},{"band":"35-45","part":"y1","t":455.3,"r":6.6},{"band":"35-45","part":"y1","t":459.6,"r":6.26},{"band":"35-45","part":"y1","t":470.6,"r":6.2},{"band":"35-45","part":"y1","t":482.5,"r":6.1},{"band":"35-45","part":"y1","t":504.4,"r":5.85},{"band":"35-45","part":"y1","t":515.6,"r":6.1},{"band":"35-45","part":"y1","t":536.7,"r":6.26},{"band":"35-45","part":"y1","t":546,"r":6.6},{"band":"35-45","part":"y1","t":562,"r":6.5},{"band":"35-45","part":"y1","t":575.6,"r":6.97},{"band":"35-45","part":"y1","t":574,"r":7.12},{"band":"35-45","part":"y1","t":565.4,"r":7.73},{"band":"35-45","part":"y1","t":561.3,"r":8.14},{"band":"35-45","part":"y1","t":565.4,"r":8.65},{"band":"35-45","part":"y1","t":569,"r":9.15},{"band":"35-45","part":"y1","t":582.4,"r":9.5},{"band":"35-45","part":"y1","t":590,"r":9.56},{"band":"35-45","part":"y1","t":600,"r":9.4},{"band":"35-45","part":"y1","t":600,"r":11.8},{"band":"35-45","part":"y1","t":594.4,"r":12.05},{"band":"35-45","part":"y1","t":592.6,"r":12.87},{"band":"35-45","part":"y1","t":590,"r":13.9},{"band":"35-45","part":"y1","t":585.7,"r":14},{"band":"35-45","part":"y1","t":576.6,"r":15.1},{"band":"35-45","part":"y1","t":575.6,"r":15.67},{"band":"35-45","part":"y1","t":565.4,"r":15.77},{"band":"35-45","part":"y1","t":565.4,"r":15.9},{"band":"35-45","part":"y1","t":504.4,"r":15.9},{"band":"35-45","part":"y1","t":502.4,"r":14.35},{"band":"35-45","part":"y1","t":491,"r":14.5},{"band":"35-45","part":"y1","t":480,"r":14.14},{"band":"35-45","part":"y1","t":468.8,"r":14},{"band":"35-45","part":"y1","t":479,"r":13.9},{"band":"35-45","part":"y1","t":486.3,"r":13.07},{"band":"35-45","part":"y1","t":485.8,"r":12.56},{"band":"35-45","part":"y1","t":470,"r":12.05},{"band":"35-45","part":"y1","t":464.7,"r":11.7},{"band":"35-45","part":"y1","t":456,"r":11},{"band":"35-45","part":"y1","t":455.3,"r":10.7},{"band":"35-45","part":"y1","t":452.3,"r":10},{"band":"35-45","part":"y1","t":457.9,"r":9},{"band":"35-45","part":"y1","t":459.6,"r":8},{"band":"35-45","part":"y1","t":458.6,"r":7.9},
{"band":"45-55","part":"p14","t":550.8,"r":8},{"band":"45-55","part":"p14","t":556.4,"r":8},{"band":"45-55","part":"p14","t":558.2,"r":8.65},{"band":"45-55","part":"p14","t":552.6,"r":8.9},{"band":"45-55","part":"p14","t":550.8,"r":8.65},
{"band":"45-55","part":"p15","t":500,"r":7.95},{"band":"45-55","part":"p15","t":518.6,"r":7.95},{"band":"45-55","part":"p15","t":518.6,"r":8.2},{"band":"45-55","part":"p15","t":500,"r":8.2},
{"band":"45-55","part":"p16","t":522,"r":7.95},{"band":"45-55","part":"p16","t":530,"r":7.95},{"band":"45-55","part":"p16","t":530,"r":8.2},{"band":"45-55","part":"p16","t":522,"r":8.2},
{"band":"35-45","part":"y2","t":455,"r":17},{"band":"35-45","part":"y2","t":463.7,"r":16.63},{"band":"35-45","part":"y2","t":480,"r":16.4},{"band":"35-45","part":"y2","t":495,"r":16.25},{"band":"35-45","part":"y2","t":504.8,"r":15.9},{"band":"35-45","part":"y2","t":564.6,"r":15.9},{"band":"35-45","part":"y2","t":565.4,"r":16.94},{"band":"35-45","part":"y2","t":559.5,"r":17.3},{"band":"35-45","part":"y2","t":554,"r":17.65},{"band":"35-45","part":"y2","t":537.4,"r":17.7},{"band":"35-45","part":"y2","t":537.4,"r":18.45},{"band":"35-45","part":"y2","t":554,"r":18.9},{"band":"35-45","part":"y2","t":569.2,"r":18.97},{"band":"35-45","part":"y2","t":564.6,"r":19.23},{"band":"35-45","part":"y2","t":554.5,"r":19.33},{"band":"35-45","part":"y2","t":540.5,"r":19.94},{"band":"35-45","part":"y2","t":530.3,"r":20.1},{"band":"35-45","part":"y2","t":530.8,"r":20.7},{"band":"35-45","part":"y2","t":529.3,"r":20.1},{"band":"35-45","part":"y2","t":522.2,"r":21.2},{"band":"35-45","part":"y2","t":514.6,"r":21.46},{"band":"35-45","part":"y2","t":502.4,"r":21.67},{"band":"35-45","part":"y2","t":495.2,"r":23.25},{"band":"35-45","part":"y2","t":484,"r":23.5},{"band":"35-45","part":"y2","t":470,"r":22.9},{"band":"35-45","part":"y2","t":465.2,"r":22},{"band":"35-45","part":"y2","t":464.4,"r":21.2},{"band":"35-45","part":"y2","t":451.7,"r":20},{"band":"35-45","part":"y2","t":459.6,"r":19},{"band":"35-45","part":"y2","t":464.7,"r":18.2},{"band":"35-45","part":"y2","t":472.4,"r":18.4},{"band":"35-45","part":"y2","t":477.3,"r":17.95},{"band":"35-45","part":"y2","t":459.6,"r":17.9},
{"band":"45-55","part":"p17","t":461,"r":17.9},{"band":"45-55","part":"p17","t":472,"r":17.85},{"band":"45-55","part":"p17","t":477,"r":17.85},{"band":"45-55","part":"p17","t":472.4,"r":18.3},{"band":"45-55","part":"p17","t":465,"r":18.05},
{"band":"35-45","part":"y3","t":404,"r":36.9},{"band":"35-45","part":"y3","t":550,"r":37.05},{"band":"35-45","part":"y3","t":558.8,"r":37.55},{"band":"35-45","part":"y3","t":562,"r":38},{"band":"35-45","part":"y3","t":553.7,"r":38.8},{"band":"35-45","part":"y3","t":550,"r":39.67},{"band":"35-45","part":"y3","t":544.3,"r":40},{"band":"35-45","part":"y3","t":548.6,"r":40.95},{"band":"35-45","part":"y3","t":541.8,"r":41.45},{"band":"35-45","part":"y3","t":536,"r":41.55},{"band":"35-45","part":"y3","t":536,"r":42.3},{"band":"35-45","part":"y3","t":541,"r":43},{"band":"35-45","part":"y3","t":537.2,"r":43.9},{"band":"35-45","part":"y3","t":532.4,"r":44.25},{"band":"35-45","part":"y3","t":514.6,"r":44.25},{"band":"35-45","part":"y3","t":503.6,"r":44.15},{"band":"35-45","part":"y3","t":495.2,"r":44.15},{"band":"35-45","part":"y3","t":483.3,"r":44.5},{"band":"35-45","part":"y3","t":480.7,"r":44.9},{"band":"35-45","part":"y3","t":481.5,"r":45.6},{"band":"35-45","part":"y3","t":478.2,"r":46.3},{"band":"35-45","part":"y3","t":475,"r":47.15},{"band":"35-45","part":"y3","t":470,"r":47.9},{"band":"35-45","part":"y3","t":464.7,"r":46.9},{"band":"35-45","part":"y3","t":459.6,"r":46.7},{"band":"35-45","part":"y3","t":452.8,"r":45.9},{"band":"35-45","part":"y3","t":465.5,"r":44.86},{"band":"35-45","part":"y3","t":458.6,"r":43.85},{"band":"35-45","part":"y3","t":443.4,"r":43.5},{"band":"35-45","part":"y3","t":436.8,"r":43},{"band":"35-45","part":"y3","t":445,"r":42.47},{"band":"35-45","part":"y3","t":451,"r":42},{"band":"35-45","part":"y3","t":435,"r":41.7},{"band":"35-45","part":"y3","t":419.7,"r":41.45},{"band":"35-45","part":"y3","t":409.6,"r":41.05},{"band":"35-45","part":"y3","t":406.5,"r":40.9},{"band":"35-45","part":"y3","t":412.6,"r":40.44},{"band":"35-45","part":"y3","t":412.9,"r":39.83},{"band":"35-45","part":"y3","t":407,"r":38.8},{"band":"35-45","part":"y3","t":403.7,"r":38},{"band":"35-45","part":"y3","t":404,"r":37.03},
{"band":"35-45","part":"y4","t":482,"r":45.68},{"band":"35-45","part":"y4","t":491,"r":45.78},{"band":"35-45","part":"y4","t":506.2,"r":45.78},{"band":"35-45","part":"y4","t":517,"r":46},{"band":"35-45","part":"y4","t":506.2,"r":46.24},{"band":"35-45","part":"y4","t":487,"r":46.2},
{"band":"35-45","part":"y5","t":520.7,"r":46},{"band":"35-45","part":"y5","t":525.7,"r":45.63},{"band":"35-45","part":"y5","t":531.6,"r":45.95},{"band":"35-45","part":"y5","t":524.7,"r":46.4},
{"band":"25-35","part":"o1","t":457.4,"r":6.97},{"band":"25-35","part":"o1","t":463.7,"r":6.77},{"band":"25-35","part":"o1","t":479,"r":6.87},{"band":"25-35","part":"o1","t":482.5,"r":6.7},{"band":"25-35","part":"o1","t":502.9,"r":6.6},{"band":"25-35","part":"o1","t":509.5,"r":6.5},{"band":"25-35","part":"o1","t":519.6,"r":6.7},{"band":"25-35","part":"o1","t":541.8,"r":6.77},{"band":"25-35","part":"o1","t":560.3,"r":6.87},{"band":"25-35","part":"o1","t":560.8,"r":6.97},{"band":"25-35","part":"o1","t":556.2,"r":7.02},{"band":"25-35","part":"o1","t":546,"r":7.27},{"band":"25-35","part":"o1","t":534.9,"r":7.8},{"band":"25-35","part":"o1","t":519.6,"r":7.88},{"band":"25-35","part":"o1","t":507,"r":7.88},{"band":"25-35","part":"o1","t":501.8,"r":7.8},{"band":"25-35","part":"o1","t":489,"r":7.63},{"band":"25-35","part":"o1","t":480,"r":7.63},{"band":"25-35","part":"o1","t":475,"r":7.37},{"band":"25-35","part":"o1","t":463.7,"r":7.48},
{"band":"25-35","part":"o2","t":460,"r":10},{"band":"25-35","part":"o2","t":464.7,"r":9},{"band":"25-35","part":"o2","t":468.8,"r":8.65},{"band":"25-35","part":"o2","t":480,"r":8.55},{"band":"25-35","part":"o2","t":489,"r":8.65},{"band":"25-35","part":"o2","t":494.2,"r":8.55},{"band":"25-35","part":"o2","t":531.6,"r":8.65},{"band":"25-35","part":"o2","t":542.5,"r":9.05},{"band":"25-35","part":"o2","t":552,"r":9.56},{"band":"25-35","part":"o2","t":555.2,"r":9.15},{"band":"25-35","part":"o2","t":568,"r":9.15},{"band":"25-35","part":"o2","t":574.8,"r":9.66},{"band":"25-35","part":"o2","t":584.2,"r":10},{"band":"25-35","part":"o2","t":595,"r":10.53},{"band":"25-35","part":"o2","t":598.4,"r":10.68},{"band":"25-35","part":"o2","t":600,"r":10.53},{"band":"25-35","part":"o2","t":600,"r":11},{"band":"25-35","part":"o2","t":595.6,"r":11.1},{"band":"25-35","part":"o2","t":594.6,"r":11.95},{"band":"25-35","part":"o2","t":590,"r":12.36},{"band":"25-35","part":"o2","t":586.2,"r":12.2},{"band":"25-35","part":"o2","t":587.5,"r":12.97},{"band":"25-35","part":"o2","t":584.5,"r":13.58},{"band":"25-35","part":"o2","t":580,"r":13.63},{"band":"25-35","part":"o2","t":576,"r":14.24},{"band":"25-35","part":"o2","t":571,"r":14.24},{"band":"25-35","part":"o2","t":572.8,"r":15},{"band":"25-35","part":"o2","t":569.2,"r":15.26},{"band":"25-35","part":"o2","t":559.5,"r":15.1},{"band":"25-35","part":"o2","t":551.2,"r":15.5},{"band":"25-35","part":"o2","t":541.8,"r":15.36},{"band":"25-35","part":"o2","t":528.3,"r":15.41},{"band":"25-35","part":"o2","t":519.6,"r":15.51},{"band":"25-35","part":"o2","t":509.5,"r":15.1},{"band":"25-35","part":"o2","t":504.4,"r":14.85},{"band":"25-35","part":"o2","t":504.4,"r":14.1},{"band":"25-35","part":"o2","t":492.7,"r":14},{"band":"25-35","part":"o2","t":492.7,"r":13.38},{"band":"25-35","part":"o2","t":491,"r":12.97},{"band":"25-35","part":"o2","t":480,"r":12.05},{"band":"25-35","part":"o2","t":470,"r":11.04},{"band":"25-35","part":"o2","t":463.7,"r":11},
{"band":"25-35","part":"o3","t":492.7,"r":17},{"band":"25-35","part":"o3","t":496.8,"r":16.9},{"band":"25-35","part":"o3","t":509.5,"r":16.63},{"band":"25-35","part":"o3","t":516.3,"r":16.53},{"band":"25-35","part":"o3","t":530.8,"r":16.63},{"band":"25-35","part":"o3","t":535,"r":16.9},{"band":"25-35","part":"o3","t":546,"r":16.53},{"band":"25-35","part":"o3","t":554.5,"r":16.53},{"band":"25-35","part":"o3","t":559.5,"r":16.94},{"band":"25-35","part":"o3","t":552.7,"r":17.2},{"band":"25-35","part":"o3","t":545,"r":17.4},{"band":"25-35","part":"o3","t":537.4,"r":17.14},{"band":"25-35","part":"o3","t":530.8,"r":17.4},{"band":"25-35","part":"o3","t":519.6,"r":17.7},{"band":"25-35","part":"o3","t":509.5,"r":17.45},{"band":"25-35","part":"o3","t":500.3,"r":17.45},
{"band":"25-35","part":"o4","t":466,"r":19.94},{"band":"25-35","part":"o4","t":471.3,"r":19.74},{"band":"25-35","part":"o4","t":478.2,"r":19.74},{"band":"25-35","part":"o4","t":484,"r":19.33},{"band":"25-35","part":"o4","t":489,"r":19.48},{"band":"25-35","part":"o4","t":499.3,"r":18.97},{"band":"25-35","part":"o4","t":508,"r":19.07},{"band":"25-35","part":"o4","t":513,"r":19.33},{"band":"25-35","part":"o4","t":519.6,"r":19.33},{"band":"25-35","part":"o4","t":523.2,"r":19.94},{"band":"25-35","part":"o4","t":515.6,"r":20.5},{"band":"25-35","part":"o4","t":509.5,"r":20.75},{"band":"25-35","part":"o4","t":502.9,"r":21},{"band":"25-35","part":"o4","t":495.2,"r":21.2},{"band":"25-35","part":"o4","t":489,"r":20.75},{"band":"25-35","part":"o4","t":483.3,"r":20.85},{"band":"25-35","part":"o4","t":478.2,"r":20.5},{"band":"25-35","part":"o4","t":473,"r":20.34},
{"band":"25-35","part":"o5","t":443.9,"r":38.05},{"band":"25-35","part":"o5","t":452,"r":37.9},{"band":"25-35","part":"o5","t":459.6,"r":37.74},{"band":"25-35","part":"o5","t":478.2,"r":37.5},{"band":"25-35","part":"o5","t":550,"r":37.5},{"band":"25-35","part":"o5","t":553.7,"r":38},{"band":"25-35","part":"o5","t":551.4,"r":38.3},{"band":"25-35","part":"o5","t":552,"r":39},{"band":"25-35","part":"o5","t":550,"r":39.17},{"band":"25-35","part":"o5","t":541,"r":39.42},{"band":"25-35","part":"o5","t":534.1,"r":39.93},{"band":"25-35","part":"o5","t":537.2,"r":40.95},{"band":"25-35","part":"o5","t":530.8,"r":41.2},{"band":"25-35","part":"o5","t":510.5,"r":41.35},{"band":"25-35","part":"o5","t":503.6,"r":41.3},{"band":"25-35","part":"o5","t":486.6,"r":41.3},{"band":"25-35","part":"o5","t":480.7,"r":41.55},{"band":"25-35","part":"o5","t":480,"r":42.1},{"band":"25-35","part":"o5","t":488.4,"r":42.47},{"band":"25-35","part":"o5","t":508.7,"r":42.37},{"band":"25-35","part":"o5","t":516.3,"r":42.37},{"band":"25-35","part":"o5","t":522.2,"r":42.6},{"band":"25-35","part":"o5","t":536,"r":42.6},{"band":"25-35","part":"o5","t":537.4,"r":43},{"band":"25-35","part":"o5","t":534.9,"r":43.5},{"band":"25-35","part":"o5","t":520.7,"r":43.6},{"band":"25-35","part":"o5","t":502.9,"r":43.5},{"band":"25-35","part":"o5","t":495.2,"r":43.74},{"band":"25-35","part":"o5","t":485.8,"r":43.85},{"band":"25-35","part":"o5","t":478.2,"r":43.9},{"band":"25-35","part":"o5","t":466,"r":43.9},{"band":"25-35","part":"o5","t":452,"r":43.5},{"band":"25-35","part":"o5","t":443.1,"r":43},{"band":"25-35","part":"o5","t":452,"r":42.6},{"band":"25-35","part":"o5","t":461.7,"r":42.37},{"band":"25-35","part":"o5","t":462.4,"r":41.35},{"band":"25-35","part":"o5","t":439.3,"r":40.95},{"band":"25-35","part":"o5","t":434.2,"r":40.95},{"band":"25-35","part":"o5","t":454.6,"r":39.93},{"band":"25-35","part":"o5","t":440,"r":38.9},
{"band":"35-45","part":"y6","t":455.3,"r":40},{"band":"35-45","part":"y6","t":459.6,"r":39.65},{"band":"35-45","part":"y6","t":463.7,"r":40},{"band":"35-45","part":"y6","t":459.6,"r":40.2},
{"band":"25-35","part":"o6","t":486.6,"r":42},{"band":"25-35","part":"o6","t":493.5,"r":41.9},{"band":"25-35","part":"o6","t":501.1,"r":41.9},{"band":"25-35","part":"o6","t":505.4,"r":42},{"band":"25-35","part":"o6","t":501.1,"r":42.1},{"band":"25-35","part":"o6","t":493.5,"r":42.1},
{"band":"25-35","part":"o7","t":513,"r":42},{"band":"25-35","part":"o7","t":517.6,"r":41.85},{"band":"25-35","part":"o7","t":534.1,"r":42.05},{"band":"25-35","part":"o7","t":517.6,"r":42.2},
{"band":"15-25","part":"r1","t":470,"r":10.94},{"band":"15-25","part":"r1","t":475,"r":10.17},{"band":"15-25","part":"r1","t":485.8,"r":9.77},{"band":"15-25","part":"r1","t":492.7,"r":9.56},{"band":"15-25","part":"r1","t":499.8,"r":9.15},{"band":"15-25","part":"r1","t":505.4,"r":9.3},{"band":"15-25","part":"r1","t":516.3,"r":9.15},{"band":"15-25","part":"r1","t":524,"r":9.4},{"band":"15-25","part":"r1","t":529.8,"r":9.26},{"band":"15-25","part":"r1","t":535,"r":9.8},{"band":"15-25","part":"r1","t":544.3,"r":10},{"band":"15-25","part":"r1","t":546.8,"r":10.43},{"band":"15-25","part":"r1","t":554.5,"r":10.43},{"band":"15-25","part":"r1","t":559.5,"r":11},{"band":"15-25","part":"r1","t":569.2,"r":11.95},{"band":"15-25","part":"r1","t":569.2,"r":12.87},{"band":"15-25","part":"r1","t":564.6,"r":12.87},{"band":"15-25","part":"r1","t":561.3,"r":12.56},{"band":"15-25","part":"r1","t":557,"r":12.46},{"band":"15-25","part":"r1","t":555.2,"r":13.07},{"band":"15-25","part":"r1","t":545,"r":13.38},{"band":"15-25","part":"r1","t":534,"r":13.38},{"band":"15-25","part":"r1","t":530.8,"r":13.48},{"band":"15-25","part":"r1","t":529.8,"r":14},{"band":"15-25","part":"r1","t":528.3,"r":13.38},{"band":"15-25","part":"r1","t":519.6,"r":13.38},{"band":"15-25","part":"r1","t":509.5,"r":13.07},{"band":"15-25","part":"r1","t":504.4,"r":13.07},{"band":"15-25","part":"r1","t":500.3,"r":12.72},{"band":"15-25","part":"r1","t":487.6,"r":12.05},{"band":"15-25","part":"r1","t":480.7,"r":11.85},
{"band":"15-25","part":"r2","t":497.3,"r":6.93},{"band":"15-25","part":"r2","t":522.7,"r":6.93},{"band":"15-25","part":"r2","t":522.7,"r":7.07},{"band":"15-25","part":"r2","t":497.3,"r":7.07},
{"band":"15-25","part":"r3","t":508,"r":6.97},{"band":"15-25","part":"r3","t":512.5,"r":6.87},{"band":"15-25","part":"r3","t":517,"r":7.12},{"band":"15-25","part":"r3","t":512.5,"r":7.17},
{"band":"15-25","part":"r4","t":527,"r":6.93},{"band":"15-25","part":"r4","t":530.3,"r":6.93},{"band":"15-25","part":"r4","t":530.3,"r":7.07},{"band":"15-25","part":"r4","t":527,"r":7.07},
{"band":"15-25","part":"r5","t":464.7,"r":43},{"band":"15-25","part":"r5","t":470,"r":42.3},{"band":"15-25","part":"r5","t":475,"r":42.6},{"band":"15-25","part":"r5","t":479.5,"r":43},{"band":"15-25","part":"r5","t":476.5,"r":43.2},{"band":"15-25","part":"r5","t":469,"r":43.2},
{"band":"15-25","part":"r6","t":458.6,"r":42.95},{"band":"15-25","part":"r6","t":464.7,"r":42.95},{"band":"15-25","part":"r6","t":464.7,"r":43.05},{"band":"15-25","part":"r6","t":458.6,"r":43.05},
{"band":"15-25","part":"r7","t":480,"r":42.95},{"band":"15-25","part":"r7","t":487.6,"r":42.95},{"band":"15-25","part":"r7","t":487.6,"r":43.05},{"band":"15-25","part":"r7","t":480,"r":43.05},
{"band":"15-25","part":"r8","t":492,"r":42.95},{"band":"15-25","part":"r8","t":514,"r":42.95},{"band":"15-25","part":"r8","t":514,"r":43.05},{"band":"15-25","part":"r8","t":492,"r":43.05}
],
"rules":[{"name":"23rd Ave","t":460,"tend":651.6,"r":8.4},{"name":"98th Ave","t":464.7,"tend":654.4,"r":15.87},{"name":"Tennyson St","t":466,"tend":653.1,"r":37.4},{"name":"Whipple St","t":466,"tend":651.6,"r":44}],
"notes":[{"label":"23","t":655.4,"r":8.8},{"label":"Ave","t":667.6,"r":8.8},{"label":"98","t":658.7,"r":16.12},{"label":"Ave","t":670.9,"r":16.12},{"label":"Tennyson","t":654.6,"r":36.67},{"label":"St","t":654.6,"r":38.2},{"label":"Whipple","t":655.4,"r":42.42},{"label":"St","t":655.4,"r":44}],
"sups":[{"label":"rd","t":662,"r":8.4},{"label":"th","t":665.6,"r":15.6}]},
"encoding":{"x":{"field":"t","type":"quantitative","scale":{"domain":[360,600],"nice":false,"zero":false},"axis":{"title":null,"orient":"bottom","values":[360,365,370,375,380,385,390,395,400,405,410,415,420,425,430,435,440,445,450,455,460,465,470,475,480,485,490,495,500,505,510,515,520,525,530,535,540,545,550,555,560,565,570,575,580,585,590,595,600],"grid":true,"gridColor":"#111","gridWidth":1.8,"gridOpacity":1,"ticks":false,"domain":false,"zindex":1,"labelAngle":270,"labelAlign":"right","labelBaseline":"middle","labelFont":"Liberation Sans","labelFontSize":26.5,"labelColor":"#333","labelPadding":19,"labelOverlap":false,"labelBound":false,"labelFlush":false,"labelExpr":"datum.value%15==0 ? floor(datum.value/60)+':'+(datum.value%60<10?'0':'')+(datum.value%60) : ''"}},
"y":{"field":"r","type":"quantitative","scale":{"domain":[0,64],"reverse":true,"nice":false,"zero":false},"axis":{"title":null,"orient":"right","values":[0,1,2,3,4,5,6,7,8,9,10,11,12,13,14,15,16,17,18,19,20,21,22,23,24,25,26,27,28,29,30,31,32,33,34,35,36,37,38,39,40,41,42,43,44,45,46,47,48,49,50,51,52,53,54,55,56,57,58,59,60,61,62,63,64],"grid":true,"gridColor":"#111","gridWidth":1.8,"gridOpacity":1,"ticks":false,"domain":false,"zindex":1,"labelAlign":"left","labelBaseline":"middle","labelFont":"Liberation Sans","labelFontSize":26.5,"labelColor":"#333","labelPadding":19,"labelOverlap":false,"labelBound":false,"labelFlush":false,"labelExpr":"datum.value==0?'44.027(33.8)':datum.value==2?'42.537(32.31)':datum.value==4?'42.027(31.8)':datum.value==6?'39.977(29.75)':datum.value==8?'39.107(28.88)':datum.value==10?'38.297(28.07)':datum.value==12?'37.067(26.84)':datum.value==14?'35.737(25.51)':datum.value==16?'34.877(24.65)':datum.value==18?'33.577(23.35)':datum.value==20?'33.187(22.96)':datum.value==22?'31.047(20.82)':datum.value==24?'30.187(19.96)':datum.value==26?'29.597(19.37)':datum.value==28?'28.947(18.72)':datum.value==30?'28.257(18.03)':datum.value==32?'27.707(17.48)':datum.value==34?'27.167(16.94)':datum.value==36?'26.467(16.24)':datum.value==38?'26.027(15.8)':datum.value==40?'25.177(14.95)':datum.value==42?'24.477(14.25)':datum.value==44?'23.367(13.14)':datum.value==46?'22.527(12.3)':datum.value==48?'21.887(11.66)':datum.value==50?'20.717(10.49)':datum.value==52?'20.127(9.9)':datum.value==54?'19.057(8.83)':datum.value==56?'17.357(7.13)':datum.value==58?'16.447(6.22)':datum.value==60?'14.887(4.66)':datum.value==62?'13.697(3.47)':datum.value==64?'10.552(0.05)':''"}}},
"layer":[
{"data":{"name":"polys"},"transform":[{"window":[{"op":"row_number","as":"seq"}]}],"mark":{"type":"line","interpolate":"linear-closed","stroke":"#000","strokeWidth":1.3},"encoding":{"order":{"field":"seq","type":"quantitative"},"detail":{"field":"part","type":"nominal"},"fill":{"field":"band","type":"nominal","scale":{"domain":["65-75","55-65","45-55","35-45","25-35","15-25","5-15"],"range":["#FFFFFF","#CCFFFF","#FFFF99","#FFFF00","#FF9900","#FF0000","#800000"]},"legend":{"title":null,"orient":"none","legendX":-116,"legendY":23,"symbolType":"square","symbolSize":324,"symbolStrokeColor":"#000","symbolStrokeWidth":1.5,"symbolOpacity":1,"labelFont":"Liberation Sans","labelFontSize":26,"labelColor":"#333","labelOffset":2,"rowPadding":16.3,"padding":8,"fillColor":"#fff","strokeColor":"#333"}}}},
{"data":{"name":"rules"},"mark":{"type":"rule","stroke":"#000","strokeWidth":4},"encoding":{"x2":{"field":"tend"}}},
{"data":{"name":"notes"},"mark":{"type":"text","align":"left","baseline":"middle","font":"Liberation Serif","fontSize":26.5,"color":"#000"},"encoding":{"text":{"field":"label"}}},
{"data":{"name":"sups"},"mark":{"type":"text","align":"left","baseline":"middle","font":"Liberation Serif","fontSize":16,"color":"#000"},"encoding":{"text":{"field":"label"}}}
]}
